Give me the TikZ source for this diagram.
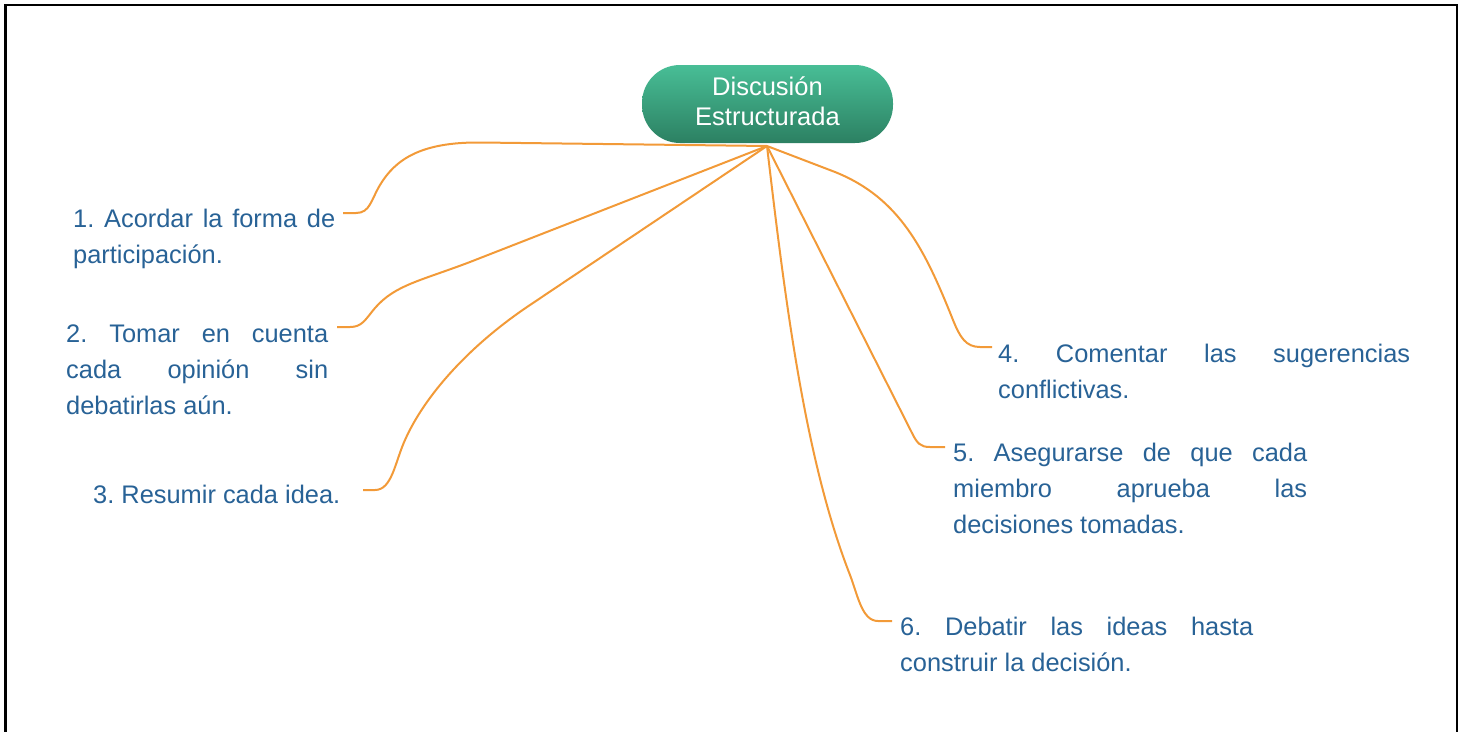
\documentclass[tikz,border=0pt]{standalone}
\usepackage{fontspec}
\setmainfont{Liberation Sans}
\definecolor{linkorange}{RGB}{242,154,56}
\definecolor{itemblue}{RGB}{40,98,150}
\definecolor{pilltop}{RGB}{72,190,150}
\definecolor{pillbottom}{RGB}{44,128,98}
\hyphenpenalty=10000
\tolerance=10000
\hbadness=10000
\frenchspacing
\begin{document}
\begin{tikzpicture}[x=1pt,y=-1pt,
  pill/.style={rounded corners=38pt, minimum width=251pt, minimum height=78pt,
    top color=pilltop, bottom color=pillbottom, inner sep=0pt},
  pilltext/.style={text=white, font=\fontsize{25.5}{30}\selectfont, align=center,
    text width=240pt, inner sep=0pt, anchor=base},
  item/.style={text=itemblue, font=\fontsize{25.4}{36}\selectfont\frenchspacing,
    inner sep=0pt, anchor=base west},
  para/.style={item, align=justify},
  link/.style={draw=linkorange, line width=2pt, line join=round}
]
\useasboundingbox (0,0) rectangle (1464,731);

% page frame (open at the bottom)
\draw[line width=2.5pt] (5.3,745) -- (5.3,5) -- (1457,5) -- (1457,745);

% central topic
\node[pill] (root) at (767.5,104) {};
\node[pilltext] (rootlabel) at (767.5,95) {Discusión\\Estructurada};
\coordinate (r) at (767,146);

% branch texts
\node[para, text width=262pt] (t1) at (73,227)
  {1. Acordar la forma de\linebreak participación.};
\node[para, text width=262pt] (t2) at (66,342)
  {2. Tomar en cuenta\linebreak cada opinión sin\linebreak debatirlas aún.};
\node[item] (t3) at (93,503) {3. Resumir cada idea.};
\node[para, text width=412pt] (t4) at (998,362)
  {4. Comentar las sugerencias\linebreak conflictivas.};
\node[para, text width=354pt] (t5) at (953,461)
  {5. Asegurarse de que cada\linebreak miembro aprueba las\linebreak decisiones tomadas.};
\node[para, text width=353pt] (t6) at (900,635)
  {6. Debatir las ideas hasta\linebreak construir la decisión.};

% connector ends beside the texts
\coordinate (e1) at (343,213);
\coordinate (e2) at (337,327);
\coordinate (e3) at (363,490);
\coordinate (e4) at (992,347);
\coordinate (e5) at (945,447);
\coordinate (e6) at (892,621);

% connectors
\draw[link] (r) -- (480,142.5) .. controls (420,142) and (395,160) .. (380,185)
  .. controls (371,200) and (370,213) .. (356,213) -- (e1);
\draw[link] (r) -- (470,262) .. controls (420,281) and (395,285) .. (375,308)
  .. controls (365,320) and (362,327) .. (350,327) -- (e2);
\draw[link] (r) -- (530,305) .. controls (470,345) and (425,395) .. (405,440)
  .. controls (395,462) and (392,490) .. (375,490) -- (e3);
\draw[link] (r) -- (835,172) .. controls (900,198) and (925,250) .. (953,320)
  .. controls (960,337.5) and (966,347) .. (980,347) -- (e4);
\draw[link] (r) -- (912,433) .. controls (917,443) and (920,447) .. (930,447) -- (e5);
\draw[link] (r) .. controls (785,300) and (805,460) .. (850,575)
  .. controls (858,596) and (862,621) .. (878,621) -- (e6);
\end{tikzpicture}
\end{document}
